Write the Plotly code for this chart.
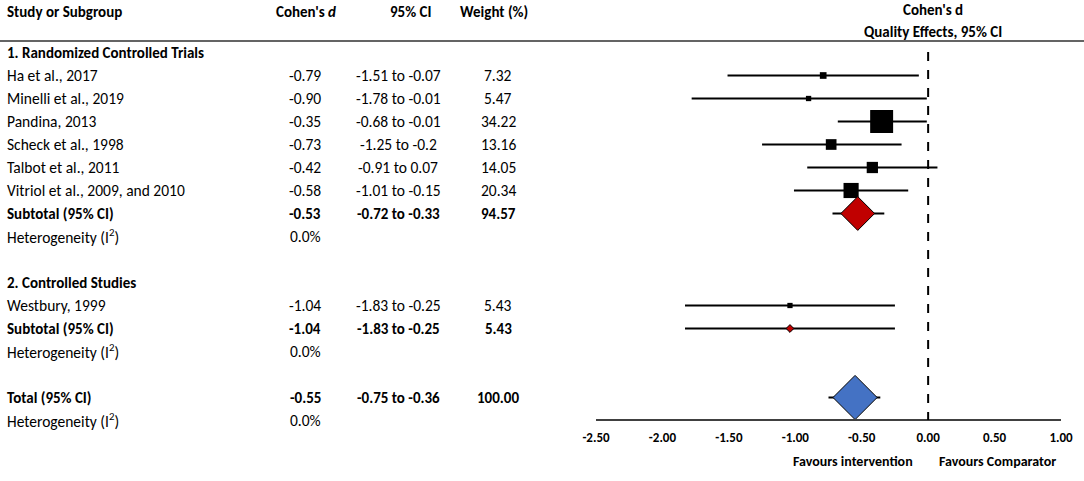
import plotly.graph_objs as go

W, H = 1084, 481

# study level data
rct_studies = ["Ha et al., 2017", "Minelli et al., 2019", "Pandina, 2013",
               "Scheck et al., 1998", "Talbot et al., 2011", "Vitriol et al., 2009, and 2010"]
rct_d = [-0.79, -0.90, -0.35, -0.73, -0.42, -0.58]
rct_lo = [-1.51, -1.78, -0.68, -1.25, -0.91, -1.01]
rct_hi = [-0.07, -0.01, -0.01, -0.2, 0.07, -0.15]
rct_weight = [7.32, 5.47, 34.22, 13.16, 14.05, 20.34]

cs_studies = ["Westbury, 1999"]
cs_d = [-1.04]
cs_lo = [-1.83]
cs_hi = [-0.25]
cs_weight = [5.43]

# pooled estimates: RCT subtotal, controlled studies subtotal, total
pooled_names = ["Subtotal (95% CI)", "Subtotal (95% CI)", "Total (95% CI)"]
pooled_d = [-0.53, -1.04, -0.55]
pooled_lo = [-0.72, -1.83, -0.75]
pooled_hi = [-0.33, -0.25, -0.36]
pooled_weight = [94.57, 5.43, 100.00]
heterogeneity = ["0.0%", "0.0%", "0.0%"]

group_names = ["1. Randomized Controlled Trials", "2. Controlled Studies"]
x_ticks = [-2.5, -2.0, -1.5, -1.0, -0.5, 0.0, 0.5, 1.0]

FONT = "Carlito, Calibri, Lato, sans-serif"
ROW0, STEP = 52.5, 23.0
AXIS_Y = 420


def row_y(i):
    return ROW0 + i * STEP


def px(x):
    return x / W


def text(x, y, s, anchor="left", bold=False, size=15):
    if bold:
        s = "<b>" + s + "</b>"
    return dict(x=px(x), y=y, xref="paper", yref="y", text=s, showarrow=False,
                xanchor=anchor, yanchor="middle", font=dict(family=FONT, size=size, color="black"))


# row order in the table
rows = []
rows.append(("group", 0))
for k in range(len(rct_studies)):
    rows.append(("rct", k))
rows.append(("pooled", 0))
rows.append(("het", 0))
rows.append(("blank", None))
rows.append(("group", 1))
for k in range(len(cs_studies)):
    rows.append(("cs", k))
rows.append(("pooled", 1))
rows.append(("het", 1))
rows.append(("blank", None))
rows.append(("pooled", 2))
rows.append(("het", 2))

ann = []
ann.append(text(5, 12, "Study or Subgroup", bold=True))
ann.append(text(306, 12, "Cohen's <i>d</i>", anchor="center", bold=True))
ann.append(text(410, 12, "95% CI", anchor="center", bold=True))
ann.append(text(494, 12, "Weight (%)", anchor="center", bold=True))
ann.append(text(933, 10, "Cohen's d", anchor="center", bold=True))
ann.append(text(933, 32, "Quality Effects, 95% CI", anchor="center", bold=True))

study_y, study_d, study_lo, study_hi, study_w = [], [], [], [], []
pool_y = []

for i, (kind, k) in enumerate(rows):
    y = row_y(i)
    if kind == "group":
        ann.append(text(5, y, group_names[k], bold=True))
    elif kind in ("rct", "cs"):
        names, d, lo, hi, w = (rct_studies, rct_d, rct_lo, rct_hi, rct_weight) if kind == "rct" \
            else (cs_studies, cs_d, cs_lo, cs_hi, cs_weight)
        ann.append(text(5, y, names[k], size=15.5))
        ann.append(text(323, y, f"{d[k]:.2f}", anchor="right", size=15.5))
        ann.append(text(398, y, f"{lo[k]} to {hi[k]}", anchor="center", size=15.5))
        ann.append(text(498, y, f"{w[k]:.2f}", anchor="center", size=15.5))
        study_y.append(y)
        study_d.append(d[k])
        study_lo.append(lo[k])
        study_hi.append(hi[k])
        study_w.append(w[k])
    elif kind == "pooled":
        ann.append(text(5, y, pooled_names[k], bold=True))
        ann.append(text(323, y, f"{pooled_d[k]:.2f}", anchor="right", bold=True))
        ann.append(text(398, y, f"{pooled_lo[k]} to {pooled_hi[k]}", anchor="center", bold=True))
        ann.append(text(498, y, f"{pooled_weight[k]:.2f}", anchor="center", bold=True))
        pool_y.append(y)
    elif kind == "het":
        ann.append(text(5, y, "Heterogeneity (I<sup>2</sup>)", size=15.5))
        ann.append(text(323, y, heterogeneity[k], anchor="right", size=15.5))

ann.append(text(853, 461, "Favours intervention", anchor="center", bold=True, size=14))
ann.append(text(997, 461, "Favours Comparator", anchor="center", bold=True, size=14))

err = dict(type="data", symmetric=False, color="black", thickness=2, width=0)

studies_trace = go.Scatter(
    x=study_d, y=study_y, mode="markers", cliponaxis=False, hoverinfo="skip",
    marker=dict(symbol="square", color="black", opacity=1,
                size=[1.36 * w ** 0.8 for w in study_w], line=dict(width=0)),
    error_x=dict(err, array=[h - d for h, d in zip(study_hi, study_d)],
                 arrayminus=[d - l for d, l in zip(study_d, study_lo)]),
)

pooled_trace = go.Scatter(
    x=pooled_d, y=pool_y, mode="markers", cliponaxis=False, hoverinfo="skip",
    marker=dict(symbol="diamond", color=["#C00000", "#C00000", "#4472C4"], size=[26, 6, 34], opacity=1,
                line=dict(color="black", width=1)),
    error_x=dict(err, array=[h - d for h, d in zip(pooled_hi, pooled_d)],
                 arrayminus=[d - l for d, l in zip(pooled_d, pooled_lo)]),
)

layout = go.Layout(
    width=W, height=H, margin=dict(l=0, r=0, t=0, b=0, autoexpand=False),
    paper_bgcolor="white", plot_bgcolor="white", showlegend=False,
    xaxis=dict(domain=[px(596), px(1061)], range=[x_ticks[0], x_ticks[-1]], showgrid=False, zeroline=False,
               anchor="free", position=(H - AXIS_Y) / H, automargin=False,
               showline=True, linecolor="#404040", linewidth=2,
               tickvals=x_ticks, ticktext=[f"<b>{v:.2f}</b>" for v in x_ticks],
               ticks="outside", ticklen=5, tickcolor="rgba(0,0,0,0)",
               tickfont=dict(family=FONT, size=13, color="black")),
    yaxis=dict(domain=[0, 1], range=[H, 0], visible=False, automargin=False),
    annotations=ann,
    shapes=[
        dict(type="line", xref="paper", yref="y", x0=0, x1=1, y0=41, y1=41,
             line=dict(color="#303030", width=1.5)),
        dict(type="line", xref="x", yref="y", x0=0, x1=0, y0=52, y1=AXIS_Y,
             line=dict(color="black", width=2, dash="dash")),
    ],
)

fig = go.Figure(data=[studies_trace, pooled_trace], layout=layout)
# page body has a default margin; drop it so the figure sits at the window corner
fig.write_html("out.html", config={"displayModeBar": False},
               post_script="document.body.style.margin = '0'; document.body.style.overflow = 'hidden';")
